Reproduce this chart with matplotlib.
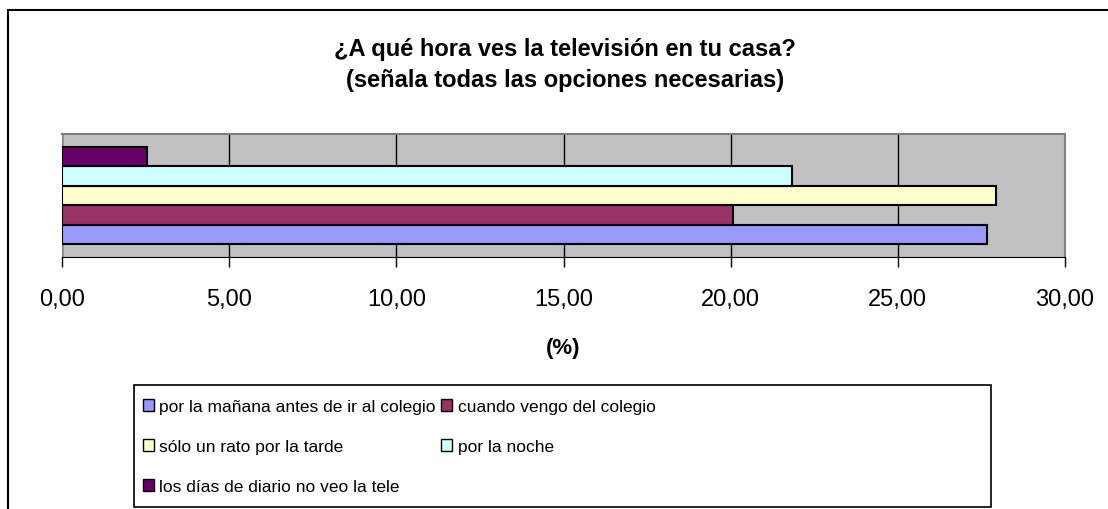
import numpy as np
import matplotlib.pyplot as plt
from matplotlib.patches import Rectangle, Patch

plt.rcParams['font.family'] = ['Liberation Sans', 'DejaVu Sans']

series = ["por la mañana antes de ir al colegio", "cuando vengo del colegio",
          "sólo un rato por la tarde", "por la noche", "los días de diario no veo la tele"]
values = [27.67, 20.07, 27.93, 21.83, 2.53]
colors = ['#9999ff', '#993366', '#ffffcc', '#ccffff', '#660066']
xticks = [0, 5, 10, 15, 20, 25, 30]
xticklabels = ["0,00", "5,00", "10,00", "15,00", "20,00", "25,00", "30,00"]

W, H = 1108, 510
fig = plt.figure(figsize=(W / 100, H / 100), dpi=100)

# outer chart frame (runs off right/bottom edge like the screenshot)
fig.patches.append(Rectangle((8 / W, -0.1), 1.2, (H - 11) / H + 0.1, transform=fig.transFigure,
                             fill=False, edgecolor='black', linewidth=1.5))
# legend frame
fig.patches.append(Rectangle((134 / W, 1 - 508 / H), (991 - 134) / W, (508 - 386) / H,
                             transform=fig.transFigure, fill=False, edgecolor='black', linewidth=1.2))

ax = fig.add_axes([62 / W, (H - 258) / H, 1003 / W, 123 / H])
ax.set_facecolor('#c0c0c0')

bh = 0.158
start = 0.106
for i, (v, c) in enumerate(zip(values, colors)):
    ax.barh(start + bh * i + bh / 2, v, height=bh, color=c, edgecolor='black', linewidth=1.5, zorder=3)

ax.set_xlim(0, 30)
ax.set_ylim(0, 1)
ax.set_xticks(xticks)
ax.set_xticklabels(xticklabels, fontsize=17)
ax.set_yticks([])
ax.grid(True, axis='x', color='black', linewidth=1, zorder=1)
ax.tick_params(axis='x', direction='out', length=7, width=1, pad=15)
for s in ['top', 'right']:
    ax.spines[s].set_color('#808080')
    ax.spines[s].set_linewidth(1.5)
ax.spines['bottom'].set_color('black')
ax.spines['left'].set_color('#808080')
ax.set_xlabel("(%)", fontsize=16, fontweight='bold', labelpad=20)

fig.text(565 / W, 1 - 65 / H, "¿A qué hora ves la televisión en tu casa?\n(señala todas las opciones necesarias)",
         ha='center', va='center', fontsize=17, fontweight='bold', linespacing=1.45)

order = [0, 2, 4, 1, 3]
handles = [Patch(facecolor=colors[i], edgecolor='black', linewidth=1) for i in order]
labels = [series[i] for i in order]
leg = fig.legend(handles, labels, loc='upper left', ncol=2,
                 bbox_to_anchor=(143 / W, 1 - 400 / H),
                 frameon=False, borderaxespad=0, borderpad=0, fontsize=12.5,
                 handlelength=0.65, handleheight=0.65, handletextpad=0.3, labelspacing=1.45,
                 columnspacing=0.3)

fig.savefig('out.png', dpi=100)
